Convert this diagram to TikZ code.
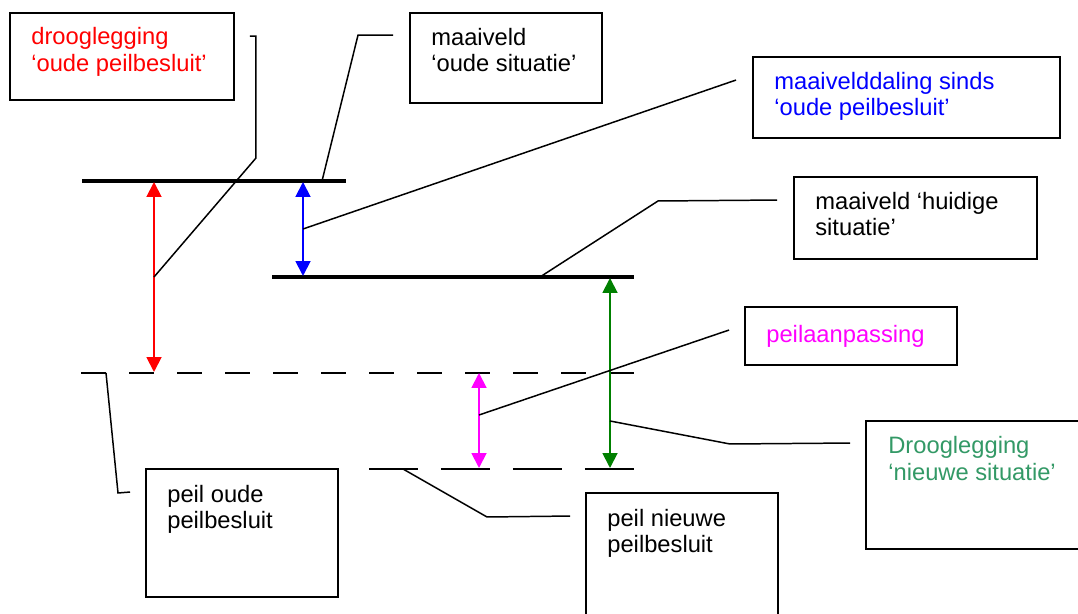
\documentclass[tikz,border=0pt]{standalone}
\usepackage{fontspec}
\setmainfont{Liberation Sans}
\usetikzlibrary{arrows.meta,fit,calc}
\definecolor{txtgreen}{HTML}{339966}
\definecolor{arrgreen}{HTML}{008000}
\definecolor{pink}{HTML}{FF00FF}
\begin{document}
\begin{tikzpicture}[x=0.02cm,y=-0.02cm,
  box/.style={draw, line width=1.1pt, inner sep=0pt},
  lbl/.style={anchor=base west, inner sep=0pt, font=\fontsize{13.5}{15.3}\selectfont},
  leader/.style={line width=0.85pt, line join=miter},
  ground/.style={line width=2pt},
  oldlevel/.style={line width=1.1pt, dash pattern=on 14.23pt off 13.09pt},
  newlevel/.style={line width=1.1pt, dash pattern=on 27.88pt off 13.09pt},
  dim/.style={line width=1.1pt,
    {Triangle[length=8.5pt,width=8.5pt]}-{Triangle[length=8.5pt,width=8.5pt]}},
]
\useasboundingbox (0,0) rectangle (1078,614);
\clip (0,0) rectangle (1078,614);
\fill[white] (0,0) rectangle (1078,614);

% ground levels and water levels
\coordinate (moA) at (82,181);  \coordinate (moB) at (346,181);
\coordinate (mhA) at (272,277); \coordinate (mhB) at (634,277);
\coordinate (poA) at (81,373);  \coordinate (poB) at (634,373);
\coordinate (pnA) at (369,469); \coordinate (pnB) at (634,469);
\draw[ground] (moA) -- (moB);
\draw[ground] (mhA) -- (mhB);
\draw[oldlevel] (poA) -- (poB);
\draw[newlevel] (pnA) -- (pnB);

% dimension arrows
\coordinate (rT) at (154,182); \coordinate (rB) at (154,372); \coordinate (rM) at (154,277);
\coordinate (bT) at (303,182); \coordinate (bB) at (303,276); \coordinate (bM) at (303,229);
\coordinate (gT) at (610,278); \coordinate (gB) at (610,468); \coordinate (gM) at (610,421);
\coordinate (mT) at (479,373); \coordinate (mB) at (479,468); \coordinate (mM) at (479,415);
\draw[dim, red] (rT) -- (rB);
\draw[dim, blue] (bT) -- (bB);
\draw[dim, arrgreen] (gT) -- (gB);
\draw[dim, pink] (mT) -- (mB);

% label boxes
\node[box, fit={(10,13) (234,100)}] (b1) {};
\node[box, fit={(410,13) (602,103)}] (b2) {};
\node[box, fit={(753,57) (1060,138)}] (b3) {};
\node[box, fit={(794,177) (1037,259)}] (b4) {};
\node[box, fit={(745,307) (957,365)}] (b5) {};
\node[box, fit={(866,421) (1100,549)}] (b6) {};
\node[box, fit={(586,493) (778,650)}] (b7) {};
\node[box, fit={(146,469) (338,597)}] (b8) {};

% label texts
\node[lbl, red] (t1a) at (31,45) {drooglegging};
\node[lbl, red] (t1b) at (31,72) {‘oude peilbesluit’};
\node[lbl] (t2a) at (431,46) {maaiveld};
\node[lbl] (t2b) at (431,72) {‘oude situatie’};
\node[lbl, blue] (t3a) at (774,90) {maaivelddaling sinds};
\node[lbl, blue] (t3b) at (774,116) {‘oude peilbesluit’};
\node[lbl] (t4a) at (815,210) {maaiveld ‘huidige};
\node[lbl] (t4b) at (815,236) {situatie’};
\node[lbl, pink] (t5a) at (766,343) {peilaanpassing};
\node[lbl, txtgreen] (t6a) at (888,454) {Drooglegging};
\node[lbl, txtgreen] (t6b) at (888,480) {‘nieuwe situatie’};
\node[lbl] (t7a) at (607,526) {peil nieuwe};
\node[lbl] (t7b) at (607,552) {peilbesluit};
\node[lbl] (t8a) at (167,502) {peil oude};
\node[lbl] (t8b) at (167,528) {peilbesluit};

% leader lines
\draw[leader] ($(b1.north east)+(15,24)$) -- ++(6,0) -- ++(0,122) -- (rM);
\draw[leader] ($(b2.north west)+(-16,23)$) -- ++(-35,0) -- (322,181);
\draw[leader] (bM) -- ($(b3.north west)+(-16,24)$);
\draw[leader] (540,277) -- (658,201) -- ($(b4.north west)+(-16,24)$);
\draw[leader] (mM) -- ($(b5.north west)+(-15,24)$);
\draw[leader] (gM) -- (730,444) -- ($(b6.north west)+(-15,23)$);
\draw[leader] (403,469) -- (487,517) -- ($(b7.north west)+(-15,24)$);
\draw[leader] (106,373) -- (118,493) -- ($(b8.north west)+(-15,24)$);
\end{tikzpicture}
\end{document}
